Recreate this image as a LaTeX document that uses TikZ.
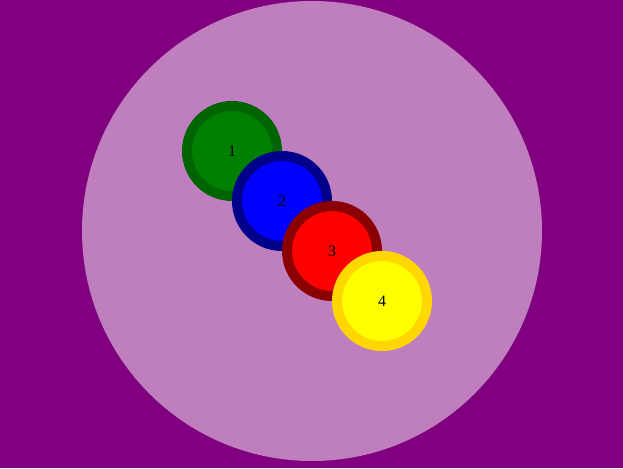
\documentclass[tikz,border=0pt]{standalone}
\usepackage{fontspec}
\setmainfont{Liberation Serif}
\begin{document}
\begin{tikzpicture}[x=1pt,y=-1pt,
  ring/.style={circle,minimum size=90pt,inner sep=0pt,line width=10pt,font=\fontsize{16}{19}\selectfont}]
\definecolor{bgpurple}{RGB}{128,0,128}
\definecolor{lightp}{RGB}{191,127,191}
\definecolor{dgreen}{RGB}{0,100,0}
\definecolor{mgreen}{RGB}{0,128,0}
\definecolor{dblue}{RGB}{0,0,139}
\definecolor{pblue}{RGB}{0,0,255}
\definecolor{dred}{RGB}{139,0,0}
\definecolor{pred}{RGB}{255,0,0}
\definecolor{gold}{RGB}{255,215,0}
\definecolor{pyellow}{RGB}{255,255,0}
\fill[bgpurple] (0,0) rectangle (623,468);
\useasboundingbox (0,0) rectangle (623,468);
\node[circle,fill=lightp,minimum size=460pt,inner sep=0pt] (big) at (312,231) {};
\node[ring,draw=dgreen,fill=mgreen] (n1) at (232,151) {1};
\node[ring,draw=dblue,fill=pblue] (n2) at (282,201) {2};
\node[ring,draw=dred,fill=pred] (n3) at (332,251) {3};
\node[ring,draw=gold,fill=pyellow] (n4) at (382,301) {4};
\end{tikzpicture}
\end{document}
